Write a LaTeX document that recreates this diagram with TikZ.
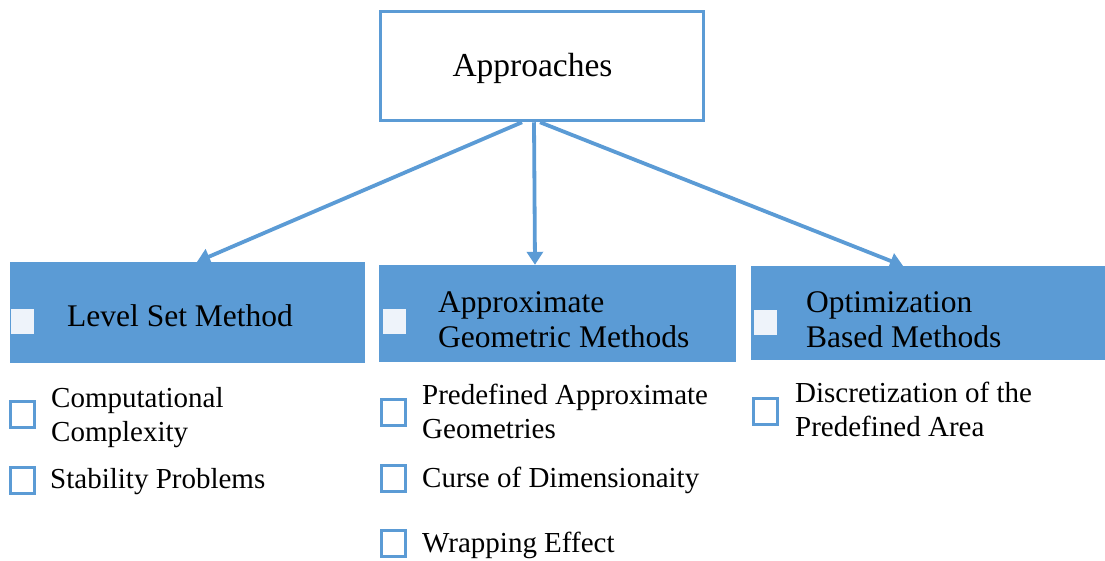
\documentclass[tikz,border=0pt]{standalone}
\usepackage{fontspec}
\setmainfont{Liberation Serif}
\usetikzlibrary{arrows.meta}
\definecolor{officeblue}{RGB}{91,155,213}
\definecolor{paleblue}{RGB}{238,243,250}
\begin{document}
\begin{tikzpicture}[x=1pt,y=-1pt,
  rootbox/.style={draw=officeblue,line width=3.5pt,fill=white,minimum width=323pt,minimum height=109pt,inner sep=0pt},
  headbox/.style={fill=officeblue,inner sep=0pt},
  headmark/.style={fill=paleblue,minimum width=23pt,minimum height=25pt,inner sep=0pt},
  itemmark/.style={draw=officeblue,line width=3pt,fill=white,minimum width=24pt,minimum height=26pt,inner sep=0pt},
  headtext/.style={anchor=base west,align=left,inner sep=0pt,font=\fontsize{31.5}{35}\selectfont},
  itemtext/.style={anchor=base west,align=left,inner sep=0pt,font=\fontsize{29}{33.5}\selectfont},
  link/.style={draw=officeblue,line width=3.8pt,-{Triangle[length=13pt,width=16pt]}}]
\useasboundingbox (0,0) rectangle (1105,560);

% root
\node[rootbox] (app) at (542,66) {};
\node[inner sep=0pt,anchor=base,font=\fontsize{33.5}{36}\selectfont] (apptxt) at (532.5,76) {Approaches};

% category headers
\node[headbox,minimum width=355pt,minimum height=101pt] (lsm) at (187.5,312.5) {};
\node[headbox,minimum width=357pt,minimum height=97pt] (agm) at (557.5,313.5) {};
\node[headbox,minimum width=354pt,minimum height=94pt] (obm) at (928,313) {};

\node[headmark] (lsmmark) at (22.5,321.5) {};
\node[headmark] (agmmark) at (394,321.5) {};
\node[headmark] (obmmark) at (765,322) {};

% multi-line texts are placed by the baseline of their last line
\node[headtext] (lsmtxt) at (67,326) {Level Set Method};
\node[headtext] (agmtxt) at (438,347) {Approximate\\Geometric Methods};
\node[headtext] (obmtxt) at (806,347) {Optimization\\Based Methods};

% connectors
\draw[link] ([xshift=-20pt]app.south) -- ([xshift=9.5pt]lsm.north);
\draw[link] ([xshift=-8pt]app.south) -- ([xshift=-22.5pt]agm.north);
\draw[link] ([xshift=-2pt]app.south) -- ([xshift=-25pt]obm.north);

% items: level set
\node[itemmark] (l1) at (22.5,414) {};
\node[itemmark] (l2) at (22.5,480.5) {};
\node[itemtext] (l1t) at (51,441) {Computational\\Complexity};
\node[itemtext] (l2t) at (50,488) {Stability Problems};

% items: approximate geometric
\node[itemmark] (a1) at (393.5,412.5) {};
\node[itemmark] (a2) at (393.5,478) {};
\node[itemmark] (a3) at (393.5,543.5) {};
\node[itemtext] (a1t) at (422,438) {Predefined Approximate\\Geometries};
\node[itemtext] (a2t) at (422,487) {Curse of Dimensionaity};
\node[itemtext] (a3t) at (422,552) {Wrapping Effect};

% items: optimization based
\node[itemmark] (o1) at (765,411) {};
\node[itemtext] (o1t) at (795,436) {Discretization of the\\Predefined Area};
\end{tikzpicture}
\end{document}
